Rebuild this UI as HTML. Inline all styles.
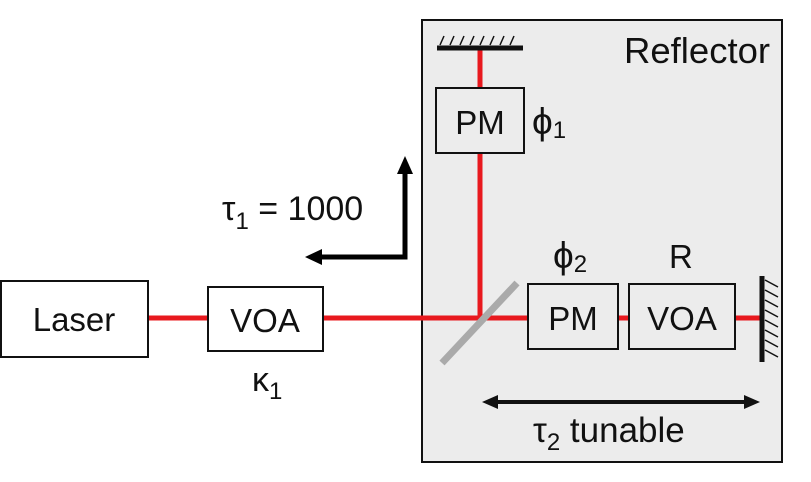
<!DOCTYPE html>
<html><head><style>
body{margin:0;background:#fff;}
svg text{font-family:"Liberation Sans",sans-serif;fill:#111;}
</style></head><body>
<svg width="811" height="477" viewBox="0 0 811 477" xmlns="http://www.w3.org/2000/svg">
<rect x="422" y="20" width="360" height="442" fill="#ececec" stroke="#111" stroke-width="2"/>
<text x="624" y="63" font-size="36.5">Reflector</text>
<!-- red beams -->
<line x1="148" y1="318" x2="762" y2="318" stroke="#e8191e" stroke-width="5"/>
<line x1="480" y1="48" x2="480" y2="318" stroke="#e8191e" stroke-width="5"/>
<!-- top mirror -->
<line x1="437" y1="48" x2="523" y2="48" stroke="#111" stroke-width="5"/>
<g stroke="#111" stroke-width="1.5">
<line x1="440" y1="45" x2="444" y2="36"/><line x1="450" y1="45" x2="454" y2="36"/><line x1="460" y1="45" x2="464" y2="36"/><line x1="470" y1="45" x2="474" y2="36"/><line x1="480" y1="45" x2="484" y2="36"/><line x1="490" y1="45" x2="494" y2="36"/><line x1="500" y1="45" x2="504" y2="36"/><line x1="510" y1="45" x2="514" y2="36"/>
</g>
<!-- right mirror -->
<line x1="762" y1="276" x2="762" y2="362" stroke="#111" stroke-width="5"/>
<g stroke="#111" stroke-width="1.5">
<line x1="765" y1="280" x2="778" y2="287"/><line x1="765" y1="290" x2="778" y2="297"/><line x1="765" y1="300" x2="778" y2="307"/><line x1="765" y1="310" x2="778" y2="317"/><line x1="765" y1="320" x2="778" y2="327"/><line x1="765" y1="330" x2="778" y2="337"/><line x1="765" y1="340" x2="778" y2="347"/><line x1="765" y1="350" x2="778" y2="357"/>
</g>
<!-- beam splitter -->
<line x1="442" y1="363" x2="517" y2="283" stroke="#aaa" stroke-width="7"/>
<!-- boxes -->
<rect x="1" y="281" width="147" height="76" fill="#fff" stroke="#111" stroke-width="2"/>
<text x="74" y="331" font-size="33" text-anchor="middle">Laser</text>
<rect x="208" y="287" width="115" height="64" fill="#fff" stroke="#111" stroke-width="2"/>
<text x="265" y="332" font-size="33" text-anchor="middle">VOA</text>
<text x="252" y="391" font-size="34">κ<tspan font-size="24" dy="8">1</tspan></text>
<rect x="436" y="88" width="88" height="65" fill="#ececec" stroke="#111" stroke-width="2"/>
<text x="480" y="134" font-size="33" text-anchor="middle">PM</text>
<text x="532" y="134" font-size="37">ϕ<tspan font-size="24" dy="4">1</tspan></text>
<rect x="528" y="284" width="90" height="65" fill="#ececec" stroke="#111" stroke-width="2"/>
<text x="573" y="330" font-size="33" text-anchor="middle">PM</text>
<rect x="629" y="284" width="106" height="65" fill="#ececec" stroke="#111" stroke-width="2"/>
<text x="682" y="330" font-size="33" text-anchor="middle">VOA</text>
<text x="553" y="268" font-size="37">ϕ<tspan font-size="24" dy="4">2</tspan></text>
<text x="669" y="268" font-size="33">R</text>
<!-- tau1 arrow -->
<polyline points="318,257 405,257 405,170" fill="none" stroke="#000" stroke-width="5"/>
<path d="M305,257 L322,249 L322,265 Z" fill="#000"/>
<path d="M405,156 L397,174 L413,174 Z" fill="#000"/>
<text x="222" y="220" font-size="34">τ<tspan font-size="24" dy="9">1</tspan><tspan dy="-9"> = 1000</tspan></text>
<!-- tau2 arrow -->
<line x1="490" y1="402" x2="752" y2="402" stroke="#111" stroke-width="4"/>
<path d="M482,402 L498,395 L498,409 Z" fill="#111"/>
<path d="M760,402 L744,395 L744,409 Z" fill="#111"/>
<text x="533" y="442" font-size="35">τ<tspan font-size="24" dy="8">2</tspan><tspan dy="-8"> tunable</tspan></text>
</svg>
</body></html>
